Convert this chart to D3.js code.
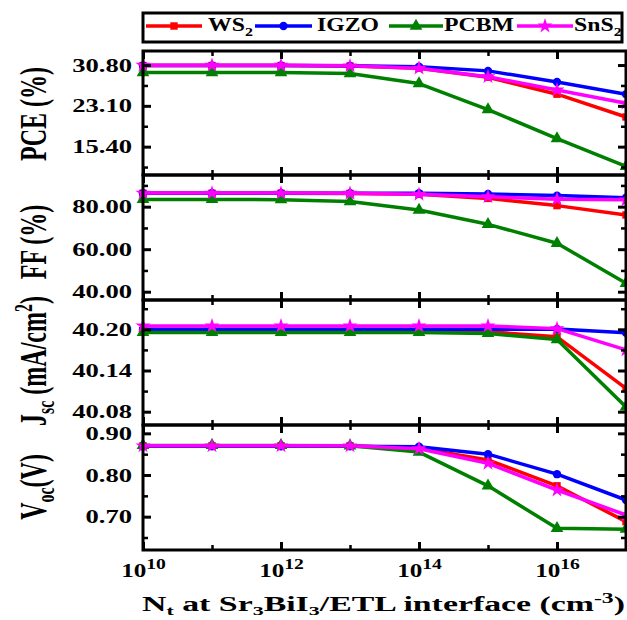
<!DOCTYPE html>
<html><head><meta charset="utf-8">
<script src="https://cdn.jsdelivr.net/npm/d3@7"></script>
<style>
body{margin:0;background:#fff}
svg text{font-family:"Liberation Serif","Times New Roman",serif;font-weight:bold;fill:#000}
</style>
</head><body><svg id="c" width="627" height="620"></svg>
<script>
// ---- data ----
const ntValues = [1e10, 1e11, 1e12, 1e13, 1e14, 1e15, 1e16, 1e17];
const seriesNames = ["WS2", "IGZO", "PCBM", "SnS2"];

const pceWS2  = [30.70, 30.70, 30.70, 30.60, 30.20, 28.50, 25.30, 21.00];
const pceIGZO = [30.70, 30.70, 30.70, 30.65, 30.50, 29.70, 27.60, 25.30];
const pcePCBM = [29.40, 29.40, 29.40, 29.20, 27.30, 22.40, 16.90, 11.70];
const pceSnS2 = [30.75, 30.75, 30.75, 30.65, 30.20, 28.60, 26.10, 23.60];

const ffWS2  = [86.3, 86.3, 86.3, 86.2, 85.8, 83.9, 80.5, 76.1];
const ffIGZO = [86.3, 86.3, 86.3, 86.3, 86.3, 86.0, 85.2, 84.2];
const ffPCBM = [83.4, 83.4, 83.3, 82.4, 78.4, 71.7, 62.8, 44.0];
const ffSnS2 = [86.4, 86.4, 86.4, 86.3, 85.8, 84.7, 83.5, 83.2];

const jscWS2  = [40.198, 40.198, 40.198, 40.198, 40.198, 40.1965, 40.189, 40.114];
const jscIGZO = [40.200, 40.200, 40.200, 40.200, 40.200, 40.200, 40.2005, 40.195];
const jscPCBM = [40.1955, 40.1955, 40.1955, 40.1955, 40.1955, 40.194, 40.185, 40.087];
const jscSnS2 = [40.205, 40.205, 40.205, 40.205, 40.205, 40.205, 40.201, 40.170];

const vocWS2  = [0.870, 0.870, 0.870, 0.870, 0.864, 0.836, 0.774, 0.688];
const vocIGZO = [0.869, 0.869, 0.869, 0.869, 0.868, 0.850, 0.802, 0.740];
const vocPCBM = [0.871, 0.871, 0.871, 0.870, 0.855, 0.774, 0.672, 0.670];
const vocSnS2 = [0.870, 0.870, 0.870, 0.870, 0.863, 0.828, 0.764, 0.704];

const pceTicks = [15.40, 23.10, 30.80];
const pceMinor = [11.55, 19.25, 26.95];
const ffTicks  = [40.00, 60.00, 80.00];
const ffMinor  = [50.00, 70.00, 90.00];
const jscTicks = [40.08, 40.14, 40.20];
const jscMinor = [40.11, 40.17, 40.23];
const vocTicks = [0.70, 0.80, 0.90];
const vocMinor = [0.65, 0.75, 0.85];

const xMajorExp = [10, 12, 14, 16];
const xMinorExp = [11, 13, 15, 17];

// ---- styles ----
const colors = {WS2:"#ff0000", IGZO:"#0000ff", PCBM:"#008000", SnS2:"#ff00ff"};
const symbols = {WS2:d3.symbolSquare, IGZO:d3.symbolCircle, PCBM:d3.symbolTriangle, SnS2:d3.symbolStar};
const symSize = {WS2:55, IGZO:55, PCBM:70, SnS2:70};

const svg = d3.select("#c");
const L = 143, R = 626;
const x = d3.scaleLog().domain([1e10, 1e17]).range([L, R]);

const panels = [
  {top:51,  bottom:175, domain:[10.05, 33.45], major:pceTicks, minor:pceMinor,
   data:{WS2:pceWS2, IGZO:pceIGZO, PCBM:pcePCBM, SnS2:pceSnS2}, title:"pce", cy:114},
  {top:175, bottom:300, domain:[36.1, 94.9], major:ffTicks, minor:ffMinor,
   data:{WS2:ffWS2, IGZO:ffIGZO, PCBM:ffPCBM, SnS2:ffSnS2}, title:"ff", cy:242},
  {top:300, bottom:425, domain:[40.0606, 40.2427], major:jscTicks, minor:jscMinor,
   data:{WS2:jscWS2, IGZO:jscIGZO, PCBM:jscPCBM, SnS2:jscSnS2}, title:"jsc", cy:361},
  {top:425, bottom:550, domain:[0.62, 0.92], major:vocTicks, minor:vocMinor,
   data:{WS2:vocWS2, IGZO:vocIGZO, PCBM:vocPCBM, SnS2:vocSnS2}, title:"voc", cy:487}
];

const SX = 1.4;

panels.forEach((p, pi) => {
  const y = d3.scaleLinear().domain(p.domain).range([p.bottom, p.top]);
  const g = svg.append("g");

  seriesNames.forEach(s => {
    const vals = p.data[s];
    const pts = ntValues.map((n, i) => [x(n), y(vals[i])]);
    g.append("path").attr("d", d3.line()(pts))
      .attr("fill", "none").attr("stroke", colors[s]).attr("stroke-width", 3.5)
      .attr("stroke-linejoin", "round");
    g.selectAll(null).data(pts).enter().append("path")
      .attr("transform", d => `translate(${d[0]},${d[1]})`)
      .attr("d", d3.symbol(symbols[s], symSize[s])())
      .attr("fill", colors[s]);
  });

  const la = g.append("g").attr("transform", `translate(${L},0)`)
    .call(d3.axisLeft(y).tickValues(p.major).tickSize(-8).tickSizeOuter(0)
      .tickFormat(d3.format(".2f")));
  la.select(".domain").remove();
  la.selectAll("line").attr("stroke", "#000").attr("stroke-width", 3);
  la.selectAll("text").attr("font-size", 19).attr("x", -11 / SX)
    .attr("transform", `scale(${SX},1)`);
  const lm = g.append("g").attr("transform", `translate(${L},0)`)
    .call(d3.axisLeft(y).tickValues(p.minor).tickSize(-5).tickSizeOuter(0).tickFormat(""));
  lm.select(".domain").remove();
  lm.selectAll("line").attr("stroke", "#000").attr("stroke-width", 2.5);

  [[p.major, -8, 3], [p.minor, -5, 2.5]].forEach(([tv, ts, sw]) => {
    const ra = g.append("g").attr("transform", `translate(${R},0)`)
      .call(d3.axisRight(y).tickValues(tv).tickSize(ts).tickSizeOuter(0).tickFormat(""));
    ra.select(".domain").remove();
    ra.selectAll("line").attr("stroke", "#000").attr("stroke-width", sw);
  });

  [[xMajorExp, -8, 3], [xMinorExp, -5, 2.5]].forEach(([ev, ts, sw]) => {
    const tv = ev.map(e => Math.pow(10, e));
    const ta = g.append("g").attr("transform", `translate(0,${p.top})`)
      .call(d3.axisTop(x).tickValues(tv).tickSize(ts).tickSizeOuter(0).tickFormat(""));
    ta.select(".domain").remove();
    ta.selectAll("line").attr("stroke", "#000").attr("stroke-width", sw);
    const ba = g.append("g").attr("transform", `translate(0,${p.bottom})`)
      .call(d3.axisBottom(x).tickValues(tv).tickSize(ts).tickSizeOuter(0).tickFormat(""));
    ba.select(".domain").remove();
    ba.selectAll("line").attr("stroke", "#000").attr("stroke-width", sw);
  });

  g.append("rect").attr("x", L).attr("y", p.top).attr("width", R - L).attr("height", p.bottom - p.top)
    .attr("fill", "none").attr("stroke", "#000").attr("stroke-width", 3);

  const t = svg.append("text").attr("text-anchor", "middle").attr("font-size", 24)
    .attr("dy", "0.35em")
    .attr("transform", `translate(33,${p.cy}) scale(1.55,1) rotate(-90)`);
  if (p.title === "pce") t.text("PCE (%)");
  if (p.title === "ff") t.text("FF (%)");
  if (p.title === "jsc") {
    t.append("tspan").text("J");
    t.append("tspan").attr("font-size", 16).attr("dy", 5).text("sc");
    t.append("tspan").attr("dy", -5).text(" (mA/cm");
    t.append("tspan").attr("font-size", 16).attr("dy", -9).text("2");
    t.append("tspan").attr("dy", 9).text(")");
  }
  if (p.title === "voc") {
    t.append("tspan").text("V");
    t.append("tspan").attr("font-size", 16).attr("dy", 5).text("oc");
    t.append("tspan").attr("dy", -5).text("(V)");
  }

  if (pi === panels.length - 1) {
    const xl = svg.append("g").attr("transform", `translate(0,${p.bottom})`)
      .call(d3.axisBottom(x).tickValues(xMajorExp.map(e => Math.pow(10, e))).tickSize(0).tickFormat(""));
    xl.select(".domain").remove();
    xl.selectAll(".tick").each(function(d, i) {
      const tx = d3.select(this).append("text").attr("y", 27).attr("text-anchor", "middle")
        .attr("font-size", 18).attr("transform", `scale(${SX},1)`);
      tx.append("tspan").text("10");
      tx.append("tspan").attr("font-size", 14).attr("dy", -8).text(String(xMajorExp[i]));
    });
  }
});

// x title
const xt = svg.append("text").attr("x", 383.5).attr("y", 611).attr("text-anchor", "middle")
  .attr("font-size", 20).attr("textLength", 483).attr("lengthAdjust", "spacingAndGlyphs");
xt.append("tspan").text("N");
xt.append("tspan").attr("font-size", 13).attr("dy", 4).text("t");
xt.append("tspan").attr("dy", -4).text(" at Sr");
xt.append("tspan").attr("font-size", 13).attr("dy", 4).text("3");
xt.append("tspan").attr("dy", -4).text("BiI");
xt.append("tspan").attr("font-size", 13).attr("dy", 4).text("3");
xt.append("tspan").attr("dy", -4).text("/ETL interface (cm");
xt.append("tspan").attr("font-size", 14).attr("dy", -8).text("-3");
xt.append("tspan").attr("dy", 8).text(")");

// legend
const lg = svg.append("g");
lg.append("rect").attr("x", 143).attr("y", 13).attr("width", 479).attr("height", 29)
  .attr("fill", "#fff").attr("stroke", "#000").attr("stroke-width", 3);
const legendLayout = [
  {x1:146, x2:202, tx:208}, {x1:255, x2:312, tx:317},
  {x1:389, x2:443, tx:444}, {x1:517, x2:573, tx:574}
];
seriesNames.forEach((s, i) => {
  const l = legendLayout[i];
  lg.append("line").attr("x1", l.x1).attr("x2", l.x2).attr("y1", 26).attr("y2", 26)
    .attr("stroke", colors[s]).attr("stroke-width", 3.5);
  lg.append("path").attr("transform", `translate(${(l.x1 + l.x2) / 2},26)`)
    .attr("d", d3.symbol(symbols[s], symSize[s])()).attr("fill", colors[s]);
  const t = lg.append("text").attr("font-size", 18)
    .attr("transform", `translate(${l.tx},31) scale(1.32,1)`);
  if (s === "WS2" || s === "SnS2") {
    t.append("tspan").text(s.slice(0, -1));
    t.append("tspan").attr("font-size", 12).attr("dy", 5).text("2");
  } else {
    t.text(s);
  }
});
</script>
</body></html>
